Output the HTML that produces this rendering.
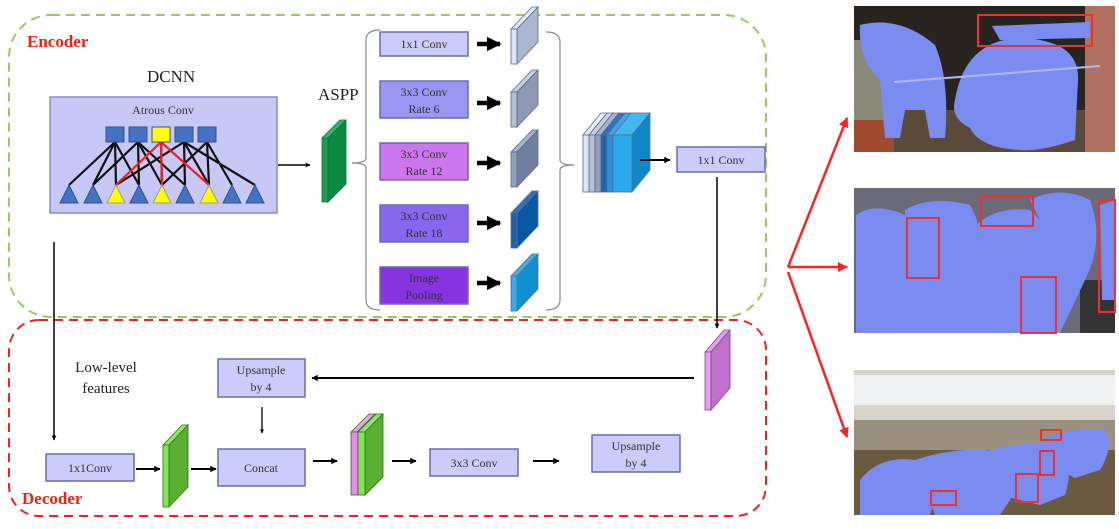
<!DOCTYPE html>
<html><head><meta charset="utf-8"><style>
html,body{margin:0;padding:0;background:#fff}
svg{display:block}
text{font-family:"Liberation Serif",serif}
</style></head><body>
<svg width="1119" height="529" viewBox="0 0 1119 529" xmlns="http://www.w3.org/2000/svg">
<defs>
<marker id="ah" viewBox="0 0 10 10" refX="9" refY="5" markerWidth="5" markerHeight="5" orient="auto"><path d="M0,0L10,5L0,10z" fill="#000"/></marker>
<marker id="ahb" viewBox="0 0 10 10" refX="9" refY="5" markerWidth="3.2" markerHeight="3.2" orient="auto"><path d="M0,0L10,5L0,10z" fill="#000"/></marker>
<marker id="ahr" viewBox="0 0 10 10" refX="9" refY="5" markerWidth="4" markerHeight="4" orient="auto"><path d="M0,0L10,5L0,10z" fill="#f22"/></marker>
</defs>

<!-- Encoder / Decoder frames -->
<rect x="9" y="15" width="757" height="302" rx="42" fill="none" stroke="#8fcf5a" stroke-width="2" stroke-dasharray="9,6"/>
<rect x="9" y="320" width="757" height="196" rx="30" fill="none" stroke="#ee2222" stroke-width="2" stroke-dasharray="9,6"/>
<text x="27" y="47" font-size="17" font-weight="bold" fill="#e21">Encoder</text>
<text x="22" y="504" font-size="17" font-weight="bold" fill="#e21">Decoder</text>

<text x="147" y="82" font-size="17" fill="#222">DCNN</text>
<text x="318" y="100" font-size="17" fill="#222">ASPP</text>

<!-- Atrous box -->
<rect x="50" y="97" width="227" height="116" fill="#c8c8f6" stroke="#8a8ad0" stroke-width="1.5"/>
<text x="163" y="114" font-size="12" text-anchor="middle" fill="#333">Atrous Conv</text>
<g stroke-width="2.2" fill="none">
<g stroke="#111">
<path d="M69,185L115,142M93,185L138,142M139,185L115,142M162,185L138,142M185,185L184,142M209,185L207,142M232,185L207,142M255,185L184,142M116,185L115,142M139,185L138,142M185,185L138,142M93,185L115,142M232,185L207,142M162,185L207,142M116,185L184,142M209,185L184,142M162,185L161,142" />
</g>
<g stroke="#ee2020"><path d="M116,185L161,142M162,185L161,142M209,185L161,142"/></g>
</g>
<g stroke="#34508a" stroke-width="1">
<rect x="106" y="127" width="18" height="15" fill="#4472c4"/>
<rect x="129" y="127" width="18" height="15" fill="#4472c4"/>
<rect x="152" y="127" width="18" height="15" fill="#ffff00"/>
<rect x="175" y="127" width="18" height="15" fill="#4472c4"/>
<rect x="198" y="127" width="18" height="15" fill="#4472c4"/>
</g>
<g stroke-width="1">
<path d="M60,203L69,185L78,203z" fill="#4472c4" stroke="#34508a"/>
<path d="M84,203L93,185L102,203z" fill="#4472c4" stroke="#34508a"/>
<path d="M107,203L116,185L125,203z" fill="#ffff00" stroke="#999"/>
<path d="M130,203L139,185L148,203z" fill="#4472c4" stroke="#34508a"/>
<path d="M153,203L162,185L171,203z" fill="#ffff00" stroke="#999"/>
<path d="M176,203L185,185L194,203z" fill="#4472c4" stroke="#34508a"/>
<path d="M200,203L209,185L218,203z" fill="#ffff00" stroke="#999"/>
<path d="M223,203L232,185L241,203z" fill="#4472c4" stroke="#34508a"/>
<path d="M246,203L255,185L264,203z" fill="#4472c4" stroke="#34508a"/>
</g>
<line x1="278" y1="165" x2="310" y2="165" stroke="#000" stroke-width="1.5" marker-end="url(#ahb)"/>

<!-- green slab -->
<g stroke="#1a6a3a" stroke-width="0.8">
<path d="M322,138L340,120L346,120L328,138z" fill="#2fb86a"/>
<path d="M328,138L346,120L346,184L328,202z" fill="#0a8a40"/>
<rect x="322" y="138" width="6" height="64" fill="#1aa050"/>
</g>

<!-- braces -->
<path d="M380,30 Q366,30 366,40 L366,158 Q366,163 352,163 Q366,163 366,168 L366,300 Q366,310 380,310" fill="none" stroke="#888" stroke-width="1.2"/>
<path d="M546,32 Q560,32 560,42 L560,160 Q560,165 574,165 Q560,165 560,170 L560,300 Q560,310 546,310" fill="none" stroke="#888" stroke-width="1.2"/>

<!-- ASPP boxes -->
<g stroke="#6a6ab8" stroke-width="1.5" font-size="12">
<rect x="380" y="32" width="88" height="24" fill="#ccccfa"/>
<rect x="380" y="81" width="88" height="37" fill="#9898f4"/>
<rect x="380" y="143" width="88" height="37" fill="#cc77ee"/>
<rect x="380" y="205" width="88" height="37" fill="#8866ee"/>
<rect x="380" y="267" width="88" height="37" fill="#8833e0"/>
</g>
<g font-size="12" text-anchor="middle" fill="#333">
<text x="424" y="48">1x1 Conv</text>
<text x="424" y="96">3x3 Conv</text><text x="424" y="113">Rate 6</text>
<text x="424" y="158">3x3 Conv</text><text x="424" y="175">Rate 12</text>
<text x="424" y="220">3x3 Conv</text><text x="424" y="237">Rate 18</text>
<text x="424" y="282">Image</text><text x="424" y="299">Pooling</text>
</g>
<g stroke="#000" stroke-width="4.5" marker-end="url(#ahb)">
<line x1="477" y1="44" x2="500" y2="44"/>
<line x1="477" y1="103" x2="500" y2="103"/>
<line x1="477" y1="163" x2="500" y2="163"/>
<line x1="477" y1="223" x2="500" y2="223"/>
<line x1="477" y1="283" x2="500" y2="283"/>
</g>
<!-- ASPP slabs -->
<g stroke="#5a6a90" stroke-width="0.8">
<path d="M511,29L532,7L538,7L517,29z" fill="#e0e8f8"/><path d="M517,29L538,7L538,42L517,64z" fill="#aab8d0"/><rect x="511" y="29" width="6" height="35" fill="#dde6f6"/>
<path d="M511,92L532,70L538,70L517,92z" fill="#c8d0e0"/><path d="M517,92L538,70L538,105L517,127z" fill="#8c9ab4"/><rect x="511" y="92" width="6" height="35" fill="#b4c0d4"/>
<path d="M511,152L532,130L538,130L517,152z" fill="#a8b4cc"/><path d="M517,152L538,130L538,165L517,187z" fill="#7080a0"/><rect x="511" y="152" width="6" height="35" fill="#90a0bc"/>
<path d="M511,213L532,191L538,191L517,213z" fill="#3070c0"/><path d="M517,213L538,191L538,226L517,248z" fill="#0a58a0"/><rect x="511" y="213" width="6" height="35" fill="#1a64b0"/>
<path d="M511,276L532,254L538,254L517,276z" fill="#40b0e8"/><path d="M517,276L538,254L538,289L517,311z" fill="#1090d0"/><rect x="511" y="276" width="6" height="35" fill="#30b0f0"/>
</g>

<!-- concat stack -->
<g stroke="#5a6a90" stroke-width="0.8">
<path d="M583,135L601,113L607,113L589,135z" fill="#e8eef8"/><rect x="583" y="135" width="6" height="57" fill="#dde6f6"/>
<path d="M589,135L607,113L613,113L595,135z" fill="#c8d0e0"/><rect x="589" y="135" width="6" height="57" fill="#b4c0d4"/>
<path d="M595,135L613,113L619,113L601,135z" fill="#a8b4cc"/><rect x="595" y="135" width="6" height="57" fill="#90a0bc"/>
<path d="M601,135L619,113L625,113L607,135z" fill="#3070c0"/><rect x="601" y="135" width="6" height="57" fill="#1a64b0"/>
<path d="M607,135L625,113L631,113L613,135z" fill="#3aa8e8"/><rect x="607" y="135" width="6" height="57" fill="#2a90d8"/>
<path d="M613,135L631,113L650,113L632,135z" fill="#40b8f0"/>
<path d="M632,135L650,113L650,170L632,192z" fill="#1088c8"/>
<rect x="613" y="135" width="19" height="57" fill="#2aa8ee"/>
</g>
<line x1="640" y1="160" x2="670" y2="160" stroke="#000" stroke-width="2" marker-end="url(#ahb)"/>
<rect x="677" y="147" width="88" height="25" fill="#ccccfa" stroke="#6a6ab8" stroke-width="1.5"/>
<text x="721" y="164" font-size="12" text-anchor="middle" fill="#333">1x1 Conv</text>
<line x1="717" y1="177" x2="717" y2="328" stroke="#000" stroke-width="1.5" marker-end="url(#ahb)"/>

<!-- pink slab -->
<g stroke="#7a4a8a" stroke-width="0.8">
<path d="M705,352L724,330L730,330L711,352z" fill="#e8a0f0"/>
<path d="M711,352L730,330L730,388L711,410z" fill="#c070c8"/>
<rect x="705" y="352" width="6" height="58" fill="#ee99f4"/>
</g>
<line x1="694" y1="378" x2="312" y2="378" stroke="#000" stroke-width="2" marker-end="url(#ahb)"/>

<!-- decoder -->
<text x="106" y="372" font-size="15" text-anchor="middle" fill="#222">Low-level</text>
<text x="106" y="393" font-size="15" text-anchor="middle" fill="#222">features</text>
<line x1="54" y1="242" x2="54" y2="440" stroke="#000" stroke-width="1.5" marker-end="url(#ahb)"/>

<g stroke="#6a6ab8" stroke-width="1.5">
<rect x="218" y="359" width="87" height="38" fill="#ccccfa"/>
<rect x="218" y="449" width="87" height="37" fill="#ccccfa"/>
<rect x="46" y="454" width="88" height="27" fill="#ccccfa"/>
<rect x="430" y="449" width="88" height="27" fill="#ccccfa"/>
<rect x="592" y="435" width="88" height="37" fill="#ccccfa"/>
</g>
<g font-size="12" text-anchor="middle" fill="#333">
<text x="261" y="374">Upsample</text><text x="261" y="391">by 4</text>
<text x="261" y="472">Concat</text>
<text x="90" y="472">1x1Conv</text>
<text x="474" y="467">3x3 Conv</text>
<text x="636" y="450">Upsample</text><text x="636" y="467">by 4</text>
</g>
<line x1="262" y1="407" x2="262" y2="433" stroke="#000" stroke-width="1.3" marker-end="url(#ahb)"/>
<g stroke="#000" stroke-width="2" marker-end="url(#ahb)">
<line x1="136" y1="469" x2="160" y2="469"/>
<line x1="191" y1="469" x2="216" y2="469"/>
<line x1="313" y1="461" x2="337" y2="461"/>
<line x1="392" y1="461" x2="416" y2="461"/>
<line x1="533" y1="461" x2="559" y2="461"/>
</g>
<!-- decoder green slab -->
<g stroke="#3a6a20" stroke-width="0.8">
<path d="M163,445L182,425L188,425L169,445z" fill="#8ee860"/>
<path d="M169,445L188,425L188,487L169,507z" fill="#5ab030"/>
<rect x="163" y="445" width="6" height="62" fill="#7ee850"/>
</g>
<!-- pink+green stack -->
<g stroke="#3a6a20" stroke-width="0.8">
<path d="M351,432L369,414L375,414L357,432z" fill="#f0a0f0"/>
<rect x="351" y="432" width="7" height="63" fill="#ee88ee"/>
<path d="M358,432L376,414L383,414L365,432z" fill="#8ee860"/>
<path d="M365,432L383,414L383,477L365,495z" fill="#5ab030"/>
<rect x="358" y="432" width="7" height="63" fill="#7ee850"/>
</g>

<!-- red arrows -->
<g stroke="#f22" stroke-width="2.5" marker-end="url(#ahr)">
<line x1="788" y1="267" x2="847" y2="118"/>
<line x1="788" y1="267" x2="847" y2="267"/>
<line x1="788" y1="272" x2="847" y2="437"/>
</g>

<!-- photo 1 -->
<g>
<rect x="854" y="6" width="261" height="146" fill="#2a2420"/>
<rect x="854" y="40" width="40" height="112" fill="#8a8878"/>
<rect x="854" y="120" width="40" height="32" fill="#a04a30"/>
<rect x="1085" y="6" width="30" height="146" fill="#b07060"/>
<rect x="894" y="110" width="191" height="42" fill="#5a4a38"/>
<path d="M860,25 Q900,15 935,45 Q950,80 945,138 L930,138 L925,110 L905,110 L900,138 L885,138 L880,80 Q858,60 860,25z" fill="#7a8cf0"/>
<path d="M955,100 Q965,40 1020,38 Q1080,40 1078,80 L1075,140 Q1040,152 1020,150 Q980,148 970,128 Q950,118 955,100z" fill="#7a8cf0"/>
<path d="M992,26 L1090,22 L1090,38 L1000,40z" fill="#7a8cf0"/>
<line x1="894" y1="82" x2="1100" y2="66" stroke="#b0b8f0" stroke-width="2"/>
<rect x="978" y="15" width="114" height="31" fill="none" stroke="#f03030" stroke-width="2"/>
</g>
<!-- photo 2 -->
<g>
<rect x="854" y="188" width="261" height="145" fill="#6a6a78"/>
<rect x="1080" y="280" width="35" height="53" fill="#333"/>
<path d="M856,215 Q870,205 890,210 Q920,215 925,250 L930,333 L856,333z" fill="#7a8cf0"/>
<path d="M905,210 Q930,195 970,205 Q985,230 980,270 L975,333 L910,333z" fill="#7a8cf0"/>
<path d="M965,240 Q985,205 1030,210 Q1060,235 1055,280 L1050,333 L975,333z" fill="#7a8cf0"/>
<path d="M1030,200 Q1060,185 1090,200 Q1105,240 1085,280 L1060,333 L1045,333 L1050,240z" fill="#7a8cf0"/>
<path d="M1100,205 L1115,200 L1115,300 L1102,300z" fill="#7a8cf0"/>
<g fill="none" stroke="#f03030" stroke-width="2">
<rect x="907" y="218" width="32" height="60"/>
<rect x="981" y="196" width="52" height="30"/>
<rect x="1021" y="277" width="35" height="56"/>
<rect x="1099" y="200" width="16" height="112"/>
</g>
</g>
<!-- photo 3 -->
<g>
<rect x="854" y="370" width="261" height="145" fill="#d8d4cc"/>
<rect x="854" y="375" width="261" height="30" fill="#eef0f2"/>
<rect x="854" y="420" width="261" height="30" fill="#9a9080"/>
<rect x="854" y="450" width="261" height="65" fill="#6a5a40"/>
<path d="M860,480 Q880,455 915,460 Q935,470 935,500 L930,515 L860,515z" fill="#7a8cf0"/>
<path d="M915,460 Q960,445 1000,452 Q1020,470 1010,500 L1000,515 L935,515z" fill="#7a8cf0"/>
<path d="M990,450 Q1030,440 1060,445 Q1075,465 1065,495 L1040,505 L1000,495z" fill="#7a8cf0"/>
<path d="M1040,440 Q1080,425 1105,430 Q1115,445 1100,470 L1075,478 L1060,470z" fill="#7a8cf0"/>
<g fill="none" stroke="#f03030" stroke-width="2">
<rect x="931" y="491" width="25" height="14"/>
<rect x="1016" y="474" width="22" height="28"/>
<rect x="1040" y="451" width="14" height="24"/>
<rect x="1041" y="430" width="20" height="10"/>
</g>
</g>
</svg>
</body></html>
